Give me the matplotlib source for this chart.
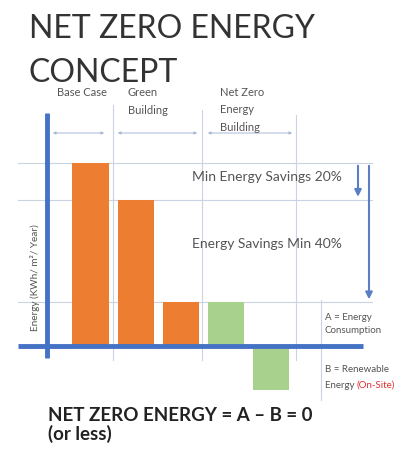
import matplotlib
matplotlib.use("Agg")
import matplotlib.pyplot as plt

# ---- data ----
categories = ["Base Case", "Green Building", "Efficient", "Net Zero A", "Net Zero B"]
values = [100, 80, 24, 24, -24]
bar_colors = ["#ED7D31", "#ED7D31", "#ED7D31", "#A9D18E", "#A9D18E"]
column_labels = ["Base Case", "Green\nBuilding", "Net Zero\nEnergy\nBuilding"]
grid_levels = [100, 80, 24]

W, H = 406, 451
fig = plt.figure(figsize=(W / 100, H / 100), dpi=100)
ax = fig.add_axes([0, 0, 1, 1])
ax.axis("off")

# pixel mapping (category spacing ~45px, 1.83 px per unit)
x0, dx = 90.5, 45.1
y0, dy = 346, 1.83
ax.set_xlim(-x0 / dx, (W - x0) / dx)
ax.set_ylim(-(H - y0) / dy, y0 / dy)

def px(x):
    return (x - x0) / dx

def py(y):
    return (y0 - y) / dy

grid_c = "#C9D3E3"
# vertical separators
for xp, ytop in [(113, 105), (202, 110), (296, 115)]:
    ax.plot([px(xp), px(xp)], [py(ytop), py(360)], color=grid_c, lw=0.8, zorder=1)
ax.plot([px(321), px(321)], [py(300), py(400)], color=grid_c, lw=0.8, zorder=1)

# horizontal grid lines
for lv in grid_levels:
    ax.plot([px(18), px(372)], [lv, lv], color=grid_c, lw=0.8, zorder=1)

# dimension arrows at top
for a, b in [(50, 107), (115, 200), (205, 295)]:
    ax.annotate("", xy=(px(b), py(133)), xytext=(px(a), py(133)),
                arrowprops=dict(arrowstyle="<|-|>", color="#A8B8D8", lw=0.7,
                                mutation_scale=4), zorder=2)

# bars
xs = list(range(len(values)))
ax.bar(xs, values, width=0.8, color=bar_colors, zorder=3)

# axes lines
blue = "#4472C4"
ax.plot([px(47), px(47)], [py(113), py(358)], color=blue, lw=3.5, zorder=4,
        solid_capstyle="butt")
ax.plot([px(18), px(363)], [0, 0], color=blue, lw=3.5, zorder=4, solid_capstyle="butt")

# down arrows
ax.annotate("", xy=(px(358), 80), xytext=(px(358), 100),
            arrowprops=dict(arrowstyle="-|>", color="#5B7FC7", lw=1.5, mutation_scale=10))
ax.annotate("", xy=(px(369), 24), xytext=(px(369), 100),
            arrowprops=dict(arrowstyle="-|>", color="#5B7FC7", lw=1.5, mutation_scale=10))

txt_c = "#555555"
sans = ["Lato", "DejaVu Sans"]
# title
ax.text(px(29), py(38), "NET ZERO ENERGY", ha="left", va="baseline",
        fontsize=23, family=sans, fontweight="normal", color="#333333")
ax.text(px(29), py(82), "CONCEPT", ha="left", va="baseline",
        fontsize=23, family=sans, fontweight="normal", color="#333333")

# column labels
ax.text(px(82), py(87), column_labels[0], ha="center", va="top", fontsize=8,
        family=sans, color=txt_c)
ax.text(px(128), py(87), column_labels[1], ha="left", va="top", fontsize=8,
        family=sans, color=txt_c, linespacing=1.75)
ax.text(px(220), py(87), column_labels[2], ha="left", va="top", fontsize=8,
        family=sans, color=txt_c, linespacing=1.7)

# annotations
ax.text(px(267), py(177), "Min Energy Savings 20%", ha="center", va="center",
        fontsize=10, family=sans, color=txt_c)
ax.text(px(267), py(244), "Energy Savings Min 40%", ha="center", va="center",
        fontsize=10, family=sans, color=txt_c)

ax.text(px(35), py(278), "Energy (KWh/ m²/ Year)", ha="center", va="center",
        rotation=90, fontsize=7.2, family=sans, color=txt_c)

ax.text(px(325), py(324), "A = Energy\nConsumption", ha="left", va="center",
        fontsize=7, family=sans, color=txt_c, linespacing=1.6)
ax.text(px(325), py(370), "B = Renewable", ha="left", va="center",
        fontsize=7, family=sans, color=txt_c)
t = ax.text(px(325), py(385), "Energy ", ha="left", va="center",
            fontsize=7, family=sans, color=txt_c)
ax.annotate("(On-Site)", xycoords=t, xy=(1, 0.5), va="center", ha="left",
            fontsize=7, family=sans, color="#E03030")

ax.text(px(48), py(421), "NET ZERO ENERGY = A – B = 0", ha="left", va="baseline",
        fontsize=13.5, fontweight="bold", family=sans, color="#222222")
ax.text(px(48), py(440), "(or less)", ha="left", va="baseline",
        fontsize=13.5, fontweight="bold", family=sans, color="#222222")

fig.savefig("out.png", dpi=100)
